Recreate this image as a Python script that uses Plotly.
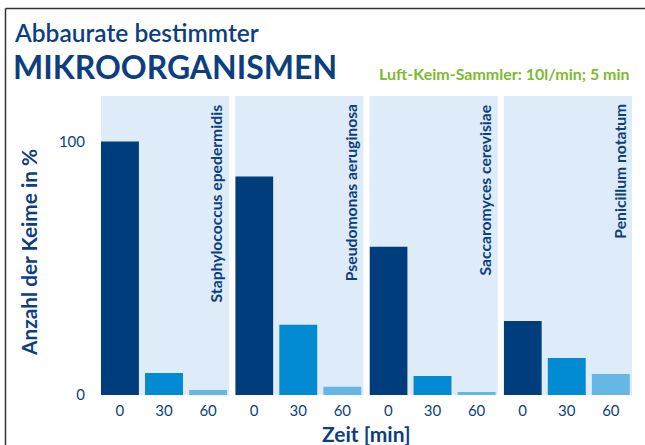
import plotly.graph_objects as go
from plotly.subplots import make_subplots

organisms = ["Staphylococcus epedermidis", "Pseudomonas aeruginosa",
             "Saccaromyces cerevisiae", "Penicillum notatum"]
time_labels = ["0", "30", "60"]
staph = [100, 8.7, 2.0]
pseudo = [86.2, 27.7, 3.3]
sacca = [58.5, 7.5, 1.2]
penic = [29.2, 14.6, 8.3]
series = [staph, pseudo, sacca, penic]

bar_colors = ["#003d7c", "#028ad2", "#66b6e6"]
navy = "#0d3f7f"
green = "#7cba30"
bg = "#deebf9"
FONT = "Lato"

W, H = 645, 445
L, R, T, B = 101, 13, 96, 50
pw, ph = W - L - R, H - T - B

def px_x(p):
    return (p - L) / pw

def px_y(p):
    return (H - B - p) / ph

fig = make_subplots(rows=1, cols=4, shared_yaxes=True,
                    horizontal_spacing=6 / pw)

for i, vals in enumerate(series):
    fig.add_trace(go.Bar(x=[0, 1, 2], y=vals, marker_color=bar_colors,
                         marker_line_width=0, width=0.86,
                         showlegend=False), row=1, col=i + 1)
    fig.update_xaxes(range=[-0.43, 2.48], tickmode="array",
                     tickvals=[0, 1, 2], ticktext=time_labels,
                     showgrid=False, zeroline=False, showline=False,
                     ticks="", ticklabelstandoff=5,
                     tickfont=dict(family=FONT, size=15, color=navy),
                     row=1, col=i + 1)
    fig.add_annotation(text=organisms[i], textangle=-90,
                       xref=f"x{'' if i == 0 else i + 1} domain",
                       yref="paper", x=0.9, y=px_y(102),
                       xanchor="center", yanchor="top", showarrow=False,
                       font=dict(family=FONT, size=15.7, color=navy, weight="bold"))

fig.update_yaxes(range=[0, 118], tickvals=[0, 100], showgrid=False,
                 zeroline=False, showline=False, ticks="",
                 ticklabelstandoff=15,
                 tickfont=dict(family=FONT, size=15, color=navy))

# titles
fig.add_annotation(text="Abbaurate bestimmter", xref="paper", yref="paper",
                   x=px_x(12), y=px_y(33), xanchor="left", yanchor="middle",
                   showarrow=False,
                   font=dict(family=FONT, size=24.5, color=navy, weight=600))
fig.add_annotation(text="MIKROORGANISMEN", xref="paper", yref="paper",
                   x=px_x(11), y=px_y(66), xanchor="left", yanchor="middle",
                   showarrow=False,
                   font=dict(family=FONT, size=32, color=navy, weight=700))
fig.add_annotation(text="Luft-Keim-Sammler: 10l/min; 5 min", xref="paper",
                   yref="paper", x=px_x(632), y=px_y(73), xanchor="right",
                   yanchor="middle", showarrow=False,
                   font=dict(family=FONT, size=16, color=green, weight="bold"))
fig.add_annotation(text="Anzahl der Keime in %", textangle=-90,
                   xref="paper", yref="paper", x=px_x(28), y=px_y(253),
                   xanchor="center", yanchor="middle", showarrow=False,
                   font=dict(family=FONT, size=20.8, color=navy, weight="bold"))
fig.add_annotation(text="Zeit [min]", xref="paper", yref="paper",
                   x=px_x(366), y=px_y(433), xanchor="center",
                   yanchor="middle", showarrow=False,
                   font=dict(family=FONT, size=21, color=navy, weight="bold"))

# frame
fig.add_shape(type="line", xref="paper", yref="paper",
              x0=px_x(5.5), x1=px_x(5.5), y0=px_y(8.5), y1=px_y(460),
              line=dict(color="#333333", width=1.5))
fig.add_shape(type="line", xref="paper", yref="paper",
              x0=px_x(5.5), x1=px_x(660), y0=px_y(8.5), y1=px_y(8.5),
              line=dict(color="#333333", width=1.5))

fig.update_layout(width=W, height=H, margin=dict(l=L, r=R, t=T, b=B),
                  plot_bgcolor=bg, paper_bgcolor="white",
                  font=dict(family=FONT, color=navy))

fig.write_html("out.html", config={"displayModeBar": False},
               post_script="document.body.style.margin='0';"
                           "document.body.style.overflow='hidden';")
